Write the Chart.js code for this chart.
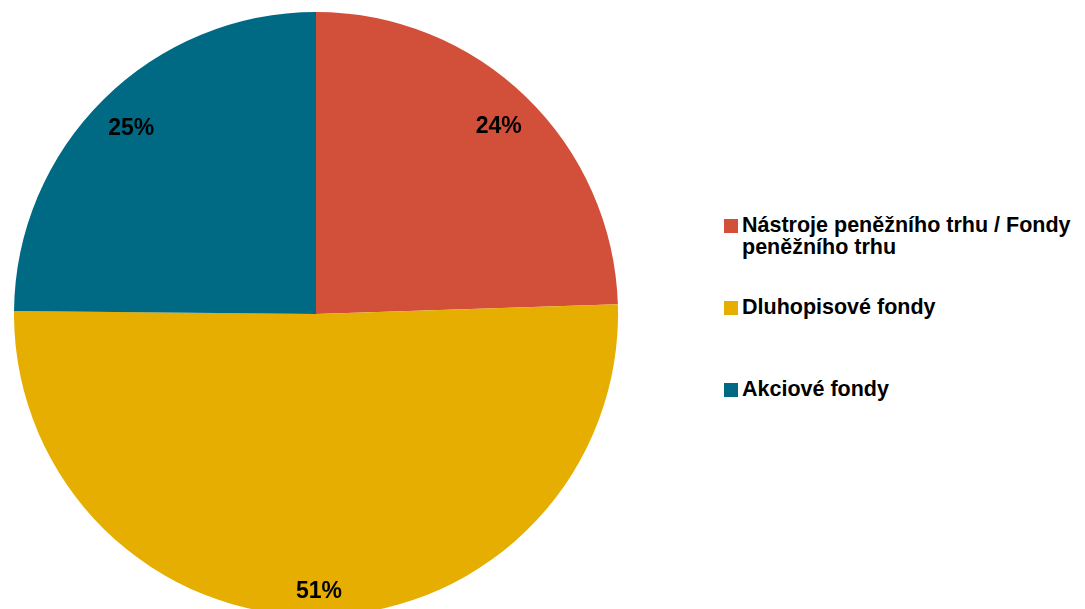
<!DOCTYPE html>
<html>
<head>
<meta charset="utf-8">
<script src="https://cdn.jsdelivr.net/npm/chart.js@4/dist/chart.umd.min.js"></script>
<style>
	html, body { margin: 0; padding: 0; background: #fff; }
	body { width: 1085px; height: 609px; overflow: hidden; position: relative; font-family: "Liberation Sans", Arial, sans-serif; }
	.pie-wrapper { position: absolute; left: 14px; top: 12px; width: 604px; height: 604px; }
	.legend { position: absolute; left: 724px; top: 0; }
	.legend-item { position: absolute; left: 0; width: 361px; font-weight: bold; font-size: 21.5px; line-height: 22px; color: #000; }
	.legend-item .box { position: absolute; left: 0; top: 5px; width: 14px; height: 14px; }
	.legend-item .text { display: block; margin-left: 18px; width: 340px; }
</style>
</head>
<body>
<div class="pie-wrapper"><canvas id="fund-chart"></canvas></div>
<div class="legend" id="fund-legend"></div>
<script>
var categories = ['Nástroje peněžního trhu / Fondy peněžního trhu', 'Dluhopisové fondy', 'Akciové fondy'];
var shares = [24.49, 50.67, 24.84];
var colors = ['#D24F39', '#E5AE00', '#006A85'];

// where the percent labels sit, as fraction of the radius
var labelRadius = [0.87, 0.915, 0.87];
var legendTops = [214, 296, 378];

var pieLabels = {
	id: 'pieLabels',
	afterDatasetsDraw: function(chart) {
		var ctx = chart.ctx;
		var meta = chart.getDatasetMeta(0);
		ctx.save();
		ctx.font = 'bold 23px "Liberation Sans", Arial, sans-serif';
		ctx.fillStyle = '#000';
		ctx.textAlign = 'center';
		ctx.textBaseline = 'middle';
		meta.data.forEach(function(arc, i) {
			var p = arc.getProps(['x', 'y', 'startAngle', 'endAngle', 'outerRadius'], true);
			var mid = (p.startAngle + p.endAngle) / 2;
			var r = p.outerRadius * labelRadius[i];
			ctx.fillText(Math.round(shares[i]) + '%', p.x + Math.cos(mid) * r, p.y + Math.sin(mid) * r + 1);
		});
		ctx.restore();
	}
};

new Chart(document.getElementById('fund-chart'), {
	type: 'pie',
	data: {
		labels: categories,
		datasets: [{
			data: shares,
			backgroundColor: colors,
			borderWidth: 0,
			hoverOffset: 0
		}]
	},
	options: {
		responsive: true,
		maintainAspectRatio: false,
		animation: false,
		layout: { padding: 0 },
		plugins: {
			legend: { display: false },
			tooltip: { enabled: false }
		}
	},
	plugins: [pieLabels]
});

var legend = document.getElementById('fund-legend');
categories.forEach(function(name, i) {
	var item = document.createElement('div');
	item.className = 'legend-item';
	item.style.top = legendTops[i] + 'px';
	item.innerHTML = '<span class="box" style="background:' + colors[i] + '"></span><span class="text">' + name + '</span>';
	legend.appendChild(item);
});
</script>
</body>
</html>
